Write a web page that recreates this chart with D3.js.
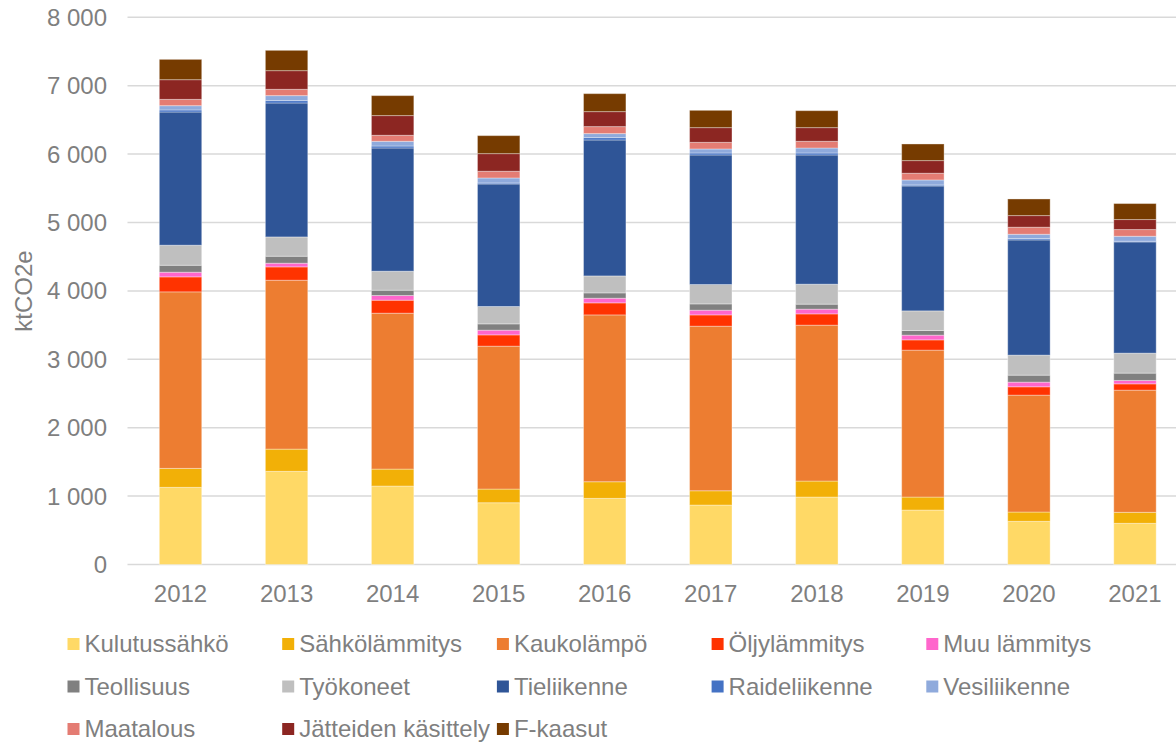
<!DOCTYPE html>
<html>
<head>
<meta charset="utf-8">
<script src="https://cdn.jsdelivr.net/npm/d3@7"></script>
<style>
  body { margin: 0; background: #fff; }
  svg { display: block; font-family: "Liberation Sans", Arial, sans-serif; }
</style>
</head>
<body>
<svg id="chart" width="1176" height="743"></svg>
<script>
// years on the x axis
var years = ["2012", "2013", "2014", "2015", "2016", "2017", "2018", "2019", "2020", "2021"];

// sector series, bottom to top (ktCO2e)
var kulutussahko   = [1128, 1362, 1147, 903, 967, 869, 986, 796, 631, 602];
var sahkolammitys  = [277, 325, 248, 200, 243, 209, 234, 190, 136, 161];
var kaukolampo     = [2581, 2469, 2279, 2089, 2439, 2406, 2279, 2148, 1709, 1786];
var oljylammitys   = [219, 195, 190, 165, 176, 165, 165, 150, 122, 92];
var muuLammitys    = [68, 54, 69, 69, 68, 69, 69, 69, 68, 50];
var teollisuus     = [102, 102, 77, 92, 78, 92, 73, 68, 102, 107];
var tyokoneet      = [293, 282, 278, 254, 248, 283, 292, 287, 293, 292];
var tieliikenne    = [1947, 1958, 1801, 1791, 1987, 1894, 1889, 1826, 1684, 1626];
var raideliikenne  = [30, 35, 29, 15, 35, 29, 29, 15, 20, 10];
var vesiliikenne   = [63, 73, 69, 73, 59, 59, 73, 73, 63, 73];
var maatalous      = [92, 92, 88, 98, 102, 97, 98, 98, 103, 98];
var jatteet        = [288, 273, 288, 258, 219, 215, 200, 185, 170, 146];
var fkaasut        = [297, 297, 292, 263, 263, 253, 248, 243, 243, 234];

var seriesNames = ["Kulutussähkö", "Sähkölämmitys", "Kaukolämpö", "Öljylämmitys", "Muu lämmitys",
    "Teollisuus", "Työkoneet", "Tieliikenne", "Raideliikenne", "Vesiliikenne",
    "Maatalous", "Jätteiden käsittely", "F-kaasut"];
var seriesValues = [kulutussahko, sahkolammitys, kaukolampo, oljylammitys, muuLammitys,
    teollisuus, tyokoneet, tieliikenne, raideliikenne, vesiliikenne,
    maatalous, jatteet, fkaasut];
var colors = ["#FFD966", "#F2B007", "#ED7D31", "#FF3300", "#FF66CC",
    "#808080", "#BFBFBF", "#2F5597", "#4472C4", "#8FAADC",
    "#E47C73", "#8C2622", "#763B00"];

var yTicks = [0, 1000, 2000, 3000, 4000, 5000, 6000, 7000, 8000];

var textColor = "#7f7f7f",
    gridColor = "#d9d9d9";

// build rows for d3.stack
var rows = years.map(function (y, i) {
    var row = { year: y };
    seriesNames.forEach(function (name, k) {
        row[name] = seriesValues[k][i];
    });
    return row;
});

var svg = d3.select("#chart");

var x = d3.scaleBand()
    .domain(years)
    .range([127.5, 1188])
    .paddingInner(0.6)
    .paddingOuter(0.3);

var y = d3.scaleLinear()
    .domain([0, 8000])
    .range([564.5, 17.3]);

var fmt = function (v) {
    return d3.format(",")(v).replace(/,/g, " ");
};

// gridlines
svg.append("g")
    .selectAll("line")
    .data(yTicks)
    .enter()
    .append("line")
    .attr("x1", 127.5)
    .attr("x2", 1188)
    .attr("y1", function (d) { return y(d); })
    .attr("y2", function (d) { return y(d); })
    .attr("stroke", gridColor)
    .attr("stroke-width", 1.5);

// y tick labels
svg.append("g")
    .selectAll("text")
    .data(yTicks)
    .enter()
    .append("text")
    .attr("x", 107)
    .attr("y", function (d) { return y(d); })
    .attr("dy", "0.35em")
    .attr("text-anchor", "end")
    .attr("font-size", 24)
    .attr("fill", textColor)
    .text(fmt);

// y axis title
svg.append("text")
    .attr("transform", "translate(32,291) rotate(-90)")
    .attr("text-anchor", "middle")
    .attr("font-size", 24)
    .attr("fill", textColor)
    .text("ktCO2e");

// stacked bars
var stacked = d3.stack().keys(seriesNames)(rows);

svg.append("g")
    .selectAll("g")
    .data(stacked)
    .enter()
    .append("g")
    .attr("fill", function (d, i) { return colors[i]; })
    .selectAll("rect")
    .data(function (d) { return d; })
    .enter()
    .append("rect")
    .attr("x", function (d) { return x(d.data.year); })
    .attr("width", x.bandwidth())
    .attr("y", function (d) { return y(d[1]); })
    .attr("height", function (d) { return y(d[0]) - y(d[1]); })
    .attr("stroke", "rgba(255,255,255,0.35)")
    .attr("stroke-width", 1);

// x labels
svg.append("g")
    .selectAll("text")
    .data(years)
    .enter()
    .append("text")
    .attr("x", function (d) { return x(d) + x.bandwidth() / 2; })
    .attr("y", 601.5)
    .attr("text-anchor", "middle")
    .attr("font-size", 24)
    .attr("fill", textColor)
    .text(function (d) { return d; });

// legend, 5 per row
var legend = svg.append("g")
    .selectAll("g")
    .data(seriesNames)
    .enter()
    .append("g")
    .attr("transform", function (d, i) {
        return "translate(" + (67.5 + (i % 5) * 214.7) + "," + (644 + Math.floor(i / 5) * 42.5) + ")";
    });

legend.append("rect")
    .attr("x", 0)
    .attr("y", -6)
    .attr("width", 12)
    .attr("height", 12)
    .attr("fill", function (d, i) { return colors[i]; });

legend.append("text")
    .attr("x", 17)
    .attr("y", 0)
    .attr("dy", "0.35em")
    .attr("font-size", 24)
    .attr("fill", textColor)
    .text(function (d) { return d; });
</script>
</body>
</html>
